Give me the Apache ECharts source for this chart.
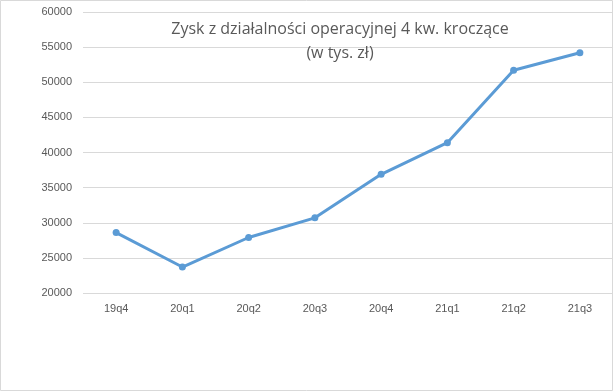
<!DOCTYPE html>
<html><head><meta charset="utf-8">
<script src="https://cdn.jsdelivr.net/npm/echarts@6/dist/echarts.min.js"></script>
<style>html,body{margin:0;padding:0;background:#fff}#c{width:613px;height:391px}</style>
</head><body><div id="c"></div>
<script>
const categories = ['19q4','20q1','20q2','20q3','20q4','21q1','21q2','21q3'];
const values = [28600, 23700, 27900, 30700, 36900, 41400, 51700, 54200];
const yTicks = {min: 20000, max: 60000, interval: 5000};
const titleText = 'Zysk z działalności operacyjnej 4 kw. kroczące\n(w tys. zł)';

const chart = echarts.init(document.getElementById('c'), null, {renderer: 'canvas'});
chart.setOption({
  backgroundColor: '#fff',
  animation: false,
  title: {
    text: titleText,
    left: 335, top: 12,
    textAlign: 'center',
    textStyle: {fontFamily: 'Open Sans', fontWeight: 'normal', fontSize: 16, color: '#595959', lineHeight: 24, align: 'center'}
  },
  graphic: [{type: 'rect', shape: {x: 0.5, y: 0.5, width: 612, height: 390}, style: {fill: 'none', stroke: '#d9d9d9', lineWidth: 1}, z: -1}],
  grid: {left: 83, right: -1, top: 12, bottom: 98, containLabel: false},
  xAxis: {
    type: 'category', data: categories, boundaryGap: true,
    axisLine: {show: false}, axisTick: {show: false},
    axisLabel: {color: '#595959', fontSize: 11, fontFamily: 'Liberation Sans', margin: 10}
  },
  yAxis: {
    type: 'value', min: yTicks.min, max: yTicks.max, interval: yTicks.interval,
    axisLine: {show: false}, axisTick: {show: false},
    splitLine: {lineStyle: {color: '#d9d9d9', width: 1}},
    axisLabel: {color: '#595959', fontSize: 11, fontFamily: 'Liberation Sans', margin: 11, formatter: v => String(v)}
  },
  series: [{
    type: 'line', data: values,
    lineStyle: {color: '#5B9BD5', width: 3},
    itemStyle: {color: '#5B9BD5'},
    symbol: 'circle', symbolSize: 7, showSymbol: true
  }]
});
</script></body></html>
